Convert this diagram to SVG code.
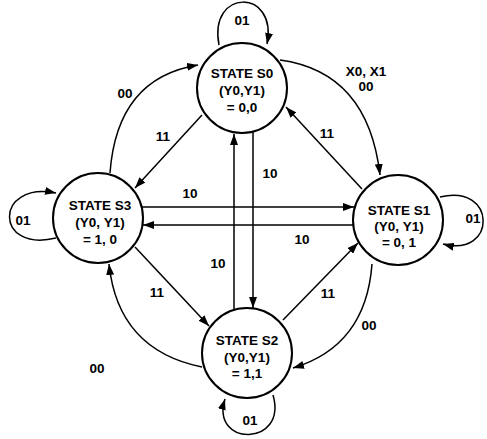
<svg xmlns="http://www.w3.org/2000/svg" width="487" height="439" viewBox="0 0 487 439">
<style>
.st{fill:#fff;stroke:#000;stroke-width:2}
.t{font-family:"Liberation Sans",Arial,sans-serif;font-weight:bold;font-size:13.5px;fill:#000;text-anchor:middle}
.c{fill:none;stroke:#000;stroke-width:1.5;marker-end:url(#ah)}
</style>
<defs>
<marker id="ah" markerUnits="userSpaceOnUse" markerWidth="11" markerHeight="8" refX="11" refY="4" orient="auto">
<path d="M0,0 L11,4 L0,8 z" fill="#000"/>
</marker>
</defs>
<rect width="487" height="439" fill="#fff"/>
<g id="connectors">
<!-- self loops -->
<path class="c" d="M219,45 C208,-12 278,-12 267,44"/>
<path class="c" d="M56,238 C-6,253 -6,181 56,193"/>
<path class="c" d="M440,197 C497,183 497,258 443,244"/>
<path class="c" d="M273,395 C288,447 210,447 225,399"/>
<!-- outer arcs -->
<path class="c" d="M110,173 Q117,78 198,65"/>
<path class="c" d="M280,60 Q368,72 380,175"/>
<path class="c" d="M372,264 Q366,346 293,368"/>
<path class="c" d="M202,367 Q118,350 109,264"/>
<!-- diagonals -->
<path class="c" d="M202,115 L135,188"/>
<path class="c" d="M362,189 L286,107"/>
<path class="c" d="M135,247 L209,326"/>
<path class="c" d="M283,320 L358,243"/>
<!-- verticals -->
<path class="c" d="M234,309 L234,134"/>
<path class="c" d="M253,132 L253,308"/>
<!-- horizontals -->
<path class="c" d="M142,207 L354,207"/>
<path class="c" d="M353,225 L143,225"/>
<!-- labels -->
<text class="t" x="242" y="25">01</text>
<text class="t" x="23" y="225">01</text>
<text class="t" x="473" y="223">01</text>
<text class="t" x="250" y="425">01</text>
<text class="t" x="125" y="98">00</text>
<text class="t" x="366" y="76">X0, X1</text>
<text class="t" x="366" y="91">00</text>
<text class="t" x="369" y="330">00</text>
<text class="t" x="97" y="373">00</text>
<text class="t" x="163" y="141">11</text>
<text class="t" x="327" y="138">11</text>
<text class="t" x="157" y="297">11</text>
<text class="t" x="328" y="298">11</text>
<text class="t" x="218" y="268">10</text>
<text class="t" x="270" y="178">10</text>
<text class="t" x="190" y="198">10</text>
<text class="t" x="302" y="244">10</text>
</g>
<g id="S0">
<circle class="st" cx="242" cy="88" r="45"/>
<text class="t" x="242" y="78">STATE S0</text>
<text class="t" x="242" y="95">(Y0,Y1)</text>
<text class="t" x="242" y="112">= 0,0</text>
</g>
<g id="S3">
<circle class="st" cx="98" cy="218" r="45"/>
<text class="t" x="100" y="210">STATE S3</text>
<text class="t" x="100" y="227">(Y0, Y1)</text>
<text class="t" x="100" y="244">= 1, 0</text>
</g>
<g id="S1">
<circle class="st" cx="398" cy="220" r="45"/>
<text class="t" x="399" y="215">STATE S1</text>
<text class="t" x="399" y="231">(Y0, Y1)</text>
<text class="t" x="399" y="247">= 0, 1</text>
</g>
<g id="S2">
<circle class="st" cx="247" cy="353" r="45"/>
<text class="t" x="247" y="345">STATE S2</text>
<text class="t" x="247" y="362">(Y0,Y1)</text>
<text class="t" x="247" y="378">= 1,1</text>
</g>
</svg>
